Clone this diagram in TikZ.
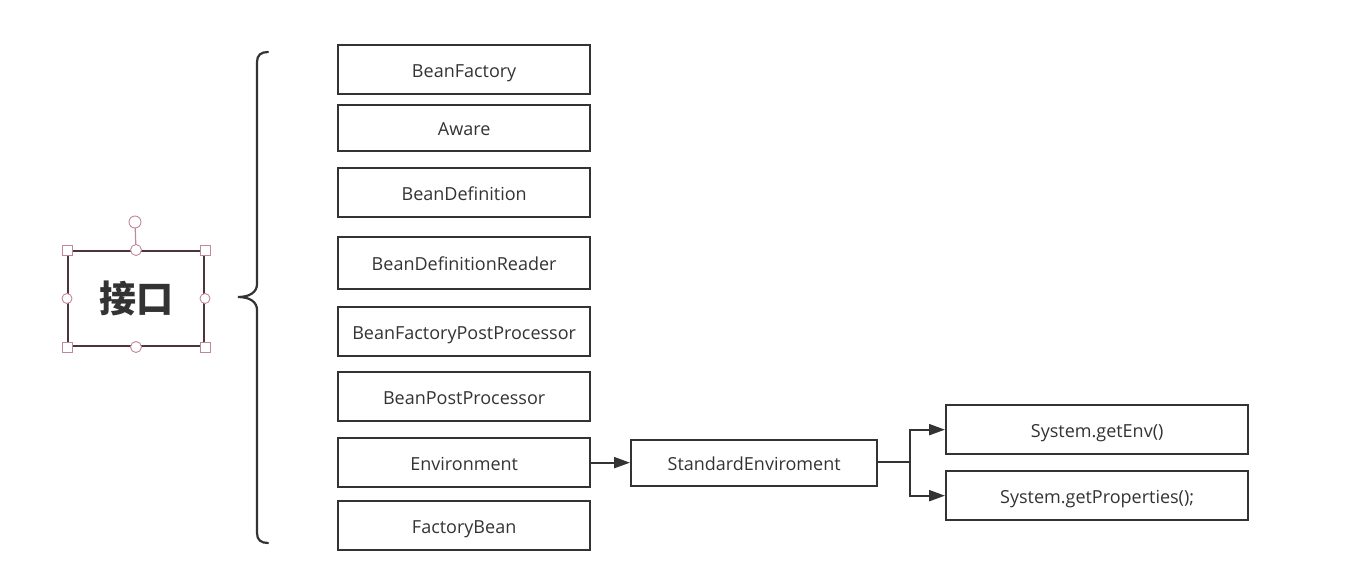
\documentclass[tikz,border=0pt]{standalone}
\usepackage{fontspec}
\setmainfont{Open Sans}
\newfontfamily\cjk{Noto Sans CJK SC}
\usetikzlibrary{arrows.meta}
\definecolor{ink}{HTML}{333333}
\definecolor{handle}{HTML}{C08898}
\definecolor{frame}{HTML}{4A3440}
\tikzset{
  box/.style={draw=ink, line width=2.3pt, minimum width=252pt, inner sep=0pt, text height=16pt, text depth=1pt, font=\fontsize{18}{20}\selectfont, text=ink},
  link/.style={draw=ink, line width=2.2pt, -{Triangle[length=16pt,width=11pt]}},
  sq/.style={draw=handle, fill=white, line width=0.9pt, minimum size=10pt, inner sep=0pt, rectangle},
  ci/.style={draw=handle, fill=white, line width=0.9pt, minimum size=11pt, inner sep=0pt, circle},
}
\begin{document}
\begin{tikzpicture}[x=1pt,y=-1pt]
\useasboundingbox (0,0) rectangle (1348,584);
% left column
\node[box, minimum height=49pt, anchor=north west] (bf) at (337,44) {BeanFactory};
\node[box, minimum height=46pt, anchor=north west] (aw) at (337,104) {Aware};
\node[box, minimum height=49pt, anchor=north west] (bd) at (337,167) {BeanDefinition};
\node[box, minimum height=52pt, anchor=north west] (bdr) at (337,236) {BeanDefinitionReader};
\node[box, minimum height=49pt, anchor=north west] (bfpp) at (337,306) {BeanFactoryPostProcessor};
\node[box, minimum height=49pt, anchor=north west] (bpp) at (337,371) {BeanPostProcessor};
\node[box, minimum height=49pt, anchor=north west] (env) at (337,437) {Environment};
\node[box, minimum height=49pt, anchor=north west] (fb) at (337,500) {FactoryBean};
% right side
\node[box, minimum width=246pt, minimum height=46pt, anchor=north west] (se) at (630,439) {StandardEnviroment};
\node[box, minimum width=302pt, minimum height=49pt, anchor=north west] (ge) at (945,404) {System.getEnv()};
\node[box, minimum width=302pt, minimum height=49pt, anchor=north west] (gp) at (945,470) {System.getProperties();};
\coordinate (split) at (910,462);
\draw[link] (env.east) -- (se.west |- env.east);
\draw[draw=ink, line width=2.2pt] (se.east |- split) -- (split);
\draw[link] (split) |- (ge.west);
\draw[link] (split) |- (gp.west);
% brace
\draw[draw=ink, line width=2.2pt, line cap=round]
  (268,52) .. controls (261,52) and (257,55) .. (257,62)
  -- (257,284) .. controls (257,292) and (250,297) .. (238,297)
  .. controls (250,297) and (257,302) .. (257,310)
  -- (257,533) .. controls (257,540) and (261,543) .. (268,543);
% interface box
\node[draw=frame, line width=2pt, minimum width=136pt, minimum height=95pt, inner sep=0pt, font=\cjk\bfseries\fontsize{37}{40}\selectfont, text=ink, anchor=north west] (ik) at (67,250) {接口};
\coordinate (rot) at (135,222);
\draw[draw=handle, line width=1.2pt] (ik.north) -- (rot);
\node[ci, minimum size=12pt] (rh) at (rot) {};
\node[sq] (h1) at (ik.north west) {};
\node[sq] (h2) at (ik.north east) {};
\node[sq] (h3) at (ik.south west) {};
\node[sq] (h4) at (ik.south east) {};
\node[ci] (h5) at (ik.north) {};
\node[ci] (h6) at (ik.south) {};
\node[ci, minimum size=10pt] (h7) at (ik.west) {};
\node[ci, minimum size=10pt] (h8) at (ik.east) {};
\end{tikzpicture}
\end{document}
